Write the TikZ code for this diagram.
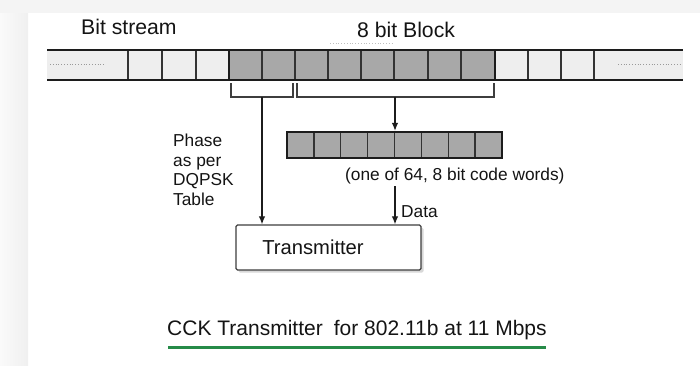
\documentclass[tikz,border=0pt]{standalone}
\usepackage{fontspec}
\setmainfont{Liberation Sans}
\usetikzlibrary{arrows.meta,shadows}

\definecolor{lightcell}{RGB}{238,238,238}
\definecolor{darkcell}{RGB}{168,168,168}
\definecolor{inkline}{RGB}{28,28,28}
\definecolor{ruleline}{RGB}{38,139,72}
\definecolor{pagegray}{RGB}{244,244,244}

\tikzset{
  rail/.style={draw=inkline, line width=2pt},
  divider/.style={draw=inkline!90, line width=1.4pt},
  heavyedge/.style={draw=inkline, line width=2.3pt},
  bracketline/.style={draw=inkline!85, line width=1.3pt},
  arr/.style={draw=inkline, line width=1.2pt, -{Latex[length=8pt,width=6.5pt]}},
  codeblock/.style={draw=inkline, line width=2.3pt, fill=darkcell,
    minimum width=215pt, minimum height=26pt, inner sep=0pt},
  txbox/.style={draw=inkline!85, line width=1.3pt, fill=white, rounded corners=1.5pt,
    minimum width=185pt, minimum height=45pt, inner sep=0pt,
    drop shadow={shadow xshift=2.5pt, shadow yshift=-2.5pt, fill=black!30}},
  bigtext/.style={font=\fontsize{21.2}{25}\selectfont, text=black!92, inner sep=0pt},
  smalltext/.style={font=\fontsize{17.3}{19.5}\selectfont, text=black!92, inner sep=0pt}
}

\begin{document}
\begin{tikzpicture}[x=1pt, y=-1pt]
\useasboundingbox (0,0) rectangle (700,365);

% page background
\fill[white] (0,0) rectangle (700,365);
\fill[pagegray] (0,0) rectangle (700,13);
\shade[left color=black!2, right color=black!6] (0,13) rectangle (28,365);

% headings
\node[bigtext, anchor=west] (bitstream) at (81,27) {Bit stream};
\node[bigtext, anchor=west] (blocktitle) at (357,30) {8 bit Block};
\draw[black!25, line width=0.8pt, dotted] (330,43) -- (392,43);

% the bit stream bar
\foreach \a/\b in {47/128,128/162,162/196,196/229,495/528,528/561,561/594,594/683}
  \fill[lightcell] (\a,50) rectangle (\b,80);
\fill[darkcell] (229,50) rectangle (495,80);
\foreach \x in {128,162,196,528,561,594}
  \draw[divider] (\x,50) -- (\x,80);
\foreach \x in {262,295,328,361,394,428,461}
  \draw[divider] (\x,50) -- (\x,80);
\draw[rail] (47,50) -- (683,50);
\draw[rail] (47,80) -- (683,80);
\draw[heavyedge] (229,50) rectangle (495,80);
\draw[black!40, line width=0.8pt, dotted] (50,64) -- (104,64);
\draw[black!40, line width=0.8pt, dotted] (618,64) -- (682,64);

% brackets under the 8 bit block
\draw[bracketline] (231,83) -- (231,97) -- (293,97) -- (293,83);
\draw[bracketline] (297,83) -- (297,97) -- (494,97) -- (494,83);
\coordinate (phasetap) at (262,97);
\coordinate (datatap) at (395,97);

% code word block
\node[codeblock] (cw) at (394.5,145) {};
\foreach \i in {1,...,7}
  \draw[divider] (287+\i*26.875,133) -- (287+\i*26.875,157);
\node[smalltext, anchor=west] (cwlabel) at (345,176) {(one of 64, 8 bit code words)};

% transmitter
\node[txbox] (tx) at (328.5,247.5) {};
\node[bigtext, font=\fontsize{20.2}{24}\selectfont] (txlabel) at (313,247) {Transmitter};

% side label
\node[smalltext, anchor=west, align=left] (phase) at (173,170)
  {Phase\\as per\\DQPSK\\Table};

% connectors
\draw[arr] (phasetap) -- (phasetap |- tx.north);
\draw[arr] (datatap) -- (datatap |- cw.north);
\coordinate (cwout) at (395,186);
\draw[arr] (cwout) -- (cwout |- tx.north);
\node[smalltext, anchor=west] (datalabel) at (401,212) {Data};

% caption
\node[bigtext, anchor=west, font=\fontsize{21}{25}\selectfont] (caption) at (167,330)
  {CCK Transmitter\hspace{0.25em} for 802.11b at 11 Mbps};
\draw[ruleline, line width=3pt] (168,347) -- (546,347);
\end{tikzpicture}
\end{document}
